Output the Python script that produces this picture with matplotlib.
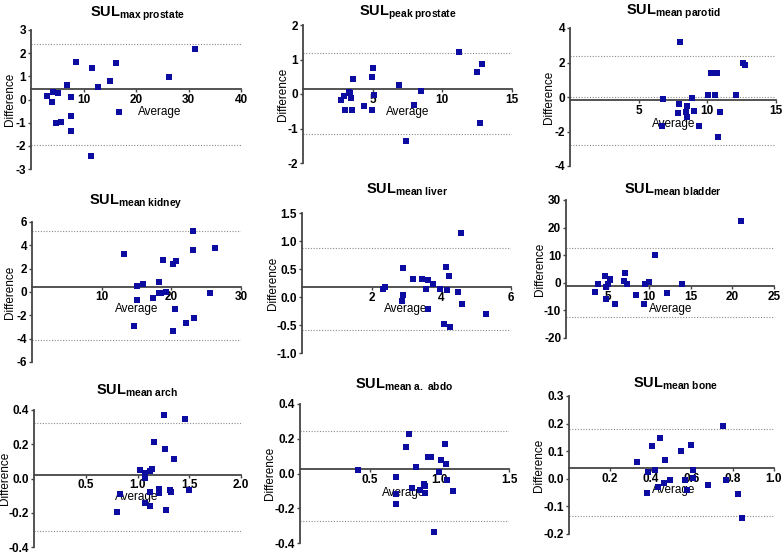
import matplotlib

matplotlib.use("Agg")

import matplotlib.pyplot as plt
from matplotlib.ticker import FormatStrFormatter

plt.rcParams.update({
    "font.family": ["Liberation Sans", "DejaVu Sans"],
    "mathtext.fontset": "custom",
    "mathtext.bf": "Liberation Sans:bold",
    "mathtext.rm": "Liberation Sans",
    "mathtext.it": "Liberation Sans:italic",
    "axes.unicode_minus": False,
})

# ---- data (average, difference) ----
max_prostate_avg = [3.0, 4.0, 4.2, 5.1, 4.75, 5.7, 6.8, 7.6, 7.7, 7.7, 8.5, 11.6, 11.4,
                    12.8, 15.0, 16.1, 16.7, 26.3, 31.2]
max_prostate_diff = [0.16, -0.10, 0.32, 0.30, -1.0, -0.99, 0.63, 0.10, -0.72, -1.38, 1.61,
                     1.36, -2.45, 0.53, 0.82, 1.56, -0.55, 0.99, 2.17]

peak_prostate_avg = [2.76, 2.95, 3.02, 3.29, 3.4, 3.45, 3.52, 3.57, 4.4, 4.95, 5.0, 5.07,
                     4.98, 6.88, 7.38, 7.98, 8.5, 11.2, 12.5, 12.88, 12.7]
peak_prostate_diff = [-0.17, -0.07, -0.46, 0.06, 0.04, -0.12, -0.47, 0.44, -0.36, 0.48, 0.74,
                      -0.03, -0.46, 0.27, -1.37, -0.31, 0.10, 1.22, 0.63, 0.86, -0.84]

parotid_avg = [6.79, 6.69, 8.0, 7.95, 7.83, 8.55, 8.45, 8.5, 8.86, 9.0, 9.36, 10.02, 10.29,
               10.57, 10.74, 10.9, 10.79, 12.1, 12.6, 12.74]
parotid_diff = [-0.14, -1.71, 3.17, -0.40, -0.90, -0.53, -0.86, -1.15, -0.03, -0.82, -1.71,
                0.13, 1.38, 0.13, 1.38, -0.88, -2.3, 0.09, 1.98, 1.88]

kidney_avg = [13.2, 15.0, 15.1, 14.6, 15.9, 17.3, 18.2, 18.3, 18.45, 18.8, 19.2, 20.3, 20.6,
              20.2, 20.55, 22.1, 23.1, 23.1, 23.2, 25.6, 26.3]
kidney_diff = [3.30, 0.49, -0.72, -2.90, 0.66, -0.52, 0.89, -0.09, -0.09, 2.73, -0.03, 2.38,
               2.70, -3.33, -1.46, -2.64, 5.20, 3.62, -2.24, -0.09, 3.76]

liver_avg = [2.33, 2.38, 2.90, 2.89, 2.88, 3.18, 3.44, 3.61, 3.57, 3.62, 3.77, 3.95, 4.14,
             4.17, 4.22, 4.08, 4.26, 4.48, 4.57, 4.6, 5.28]
liver_diff = [0.14, 0.18, 0.51, 0.04, -0.08, 0.33, 0.33, 0.31, 0.14, -0.22, 0.23, 0.14, 0.53,
              0.12, 0.38, -0.49, -0.53, 0.09, 1.15, -0.12, -0.31]

bladder_avg = [3.52, 3.8, 4.64, 4.8, 4.84, 5.08, 5.24, 5.3, 5.88, 6.92, 7.08, 7.36, 8.44,
               9.44, 9.4, 9.92, 10.64, 12.12, 13.96, 21.0]
bladder_diff = [-3.25, -0.36, 2.53, -1.45, -5.9, -0.36, 1.08, 1.45, -7.6, 0.48, 3.49, -0.6,
                -4.46, -0.36, -7.83, 0.12, 10.24, -3.73, -0.48, 22.5]

arch_avg = [0.805, 0.83, 1.02, 1.07, 1.07, 1.075, 1.077, 1.12, 1.14, 1.125, 1.125, 1.16,
            1.205, 1.21, 1.26, 1.263, 1.272, 1.317, 1.32, 1.35, 1.46, 1.494]
arch_diff = [-0.194, -0.091, 0.047, 0.030, 0.015, 0.005, -0.143, 0.045, 0.058, -0.076, -0.16,
             0.213, -0.063, -0.082, 0.368, 0.171, -0.183, -0.069, -0.078, 0.112, 0.35, -0.067]

abdo_avg = [0.416, 0.686, 0.686, 0.688, 0.759, 0.785, 0.806, 0.83, 0.86, 0.887, 0.9, 0.898,
            0.922, 0.941, 0.96, 1.0, 1.014, 1.038, 1.047, 1.052, 1.1]
abdo_diff = [0.02, -0.02, -0.119, -0.174, 0.151, 0.228, -0.082, 0.04, -0.095, -0.059, -0.074,
             -0.111, 0.093, 0.093, -0.338, 0.007, 0.076, 0.167, 0.053, -0.036, -0.1]

bone_avg = [0.33, 0.381, 0.384, 0.405, 0.418, 0.432, 0.443, 0.466, 0.464, 0.491, 0.546, 0.565,
            0.574, 0.595, 0.606, 0.606, 0.678, 0.752, 0.768, 0.824, 0.843]
bone_diff = [0.060, -0.051, 0.025, 0.119, 0.032, -0.028, 0.147, 0.067, -0.016, -0.003, 0.1,
             -0.005, -0.042, 0.121, 0.032, 0.004, -0.023, 0.193, -0.004, -0.054, -0.142]

# bias (solid axis line) and dotted reference lines
bias = [0.445, 0.14, -0.2, 0.46, 0.18, -1.33, 0.023, 0.024, 0.040]
dotted = [[2.38, -1.98], [1.20, -1.16], [2.36, 0.0, -2.8], [5.25, -4.13], [0.87, -0.59],
          [12.65, -12.29], [0.324, -0.305], [0.244, -0.273], [0.179, -0.133]]

subscripts = ["max prostate", "peak prostate", "mean parotid", "mean kidney", "mean liver",
              "mean bladder", "mean arch", "mean a. abdo", "mean bone"]

averages = [max_prostate_avg, peak_prostate_avg, parotid_avg, kidney_avg, liver_avg,
            bladder_avg, arch_avg, abdo_avg, bone_avg]
differences = [max_prostate_diff, peak_prostate_diff, parotid_diff, kidney_diff, liver_diff,
               bladder_diff, arch_diff, abdo_diff, bone_diff]

x_limits = [(0, 40), (0, 15), (0, 15), (0, 30), (0, 6), (0, 25), (0, 2), (0, 1.5), (0, 1)]
y_limits = [(-3, 3), (-2, 2), (-4, 4), (-6, 6), (-1, 1.5), (-20, 30), (-0.4, 0.4),
            (-0.4, 0.4), (-0.2, 0.3)]
x_ticks = [[10, 20, 30, 40], [5, 10, 15], [5, 10, 15], [10, 20, 30], [2, 4, 6],
           [5, 10, 15, 20, 25], [0.5, 1.0, 1.5, 2.0], [0.5, 1.0, 1.5],
           [0.2, 0.4, 0.6, 0.8, 1.0]]
y_ticks = [[-3, -2, -1, 0, 1, 2, 3], [-2, -1, 0, 1, 2], [-4, -2, 0, 2, 4],
           [-6, -4, -2, 0, 2, 4, 6], [-1.0, -0.5, 0.0, 0.5, 1.0, 1.5],
           [-20, -10, 0, 10, 20, 30], [-0.4, -0.2, 0.0, 0.2, 0.4],
           [-0.4, -0.2, 0.0, 0.2, 0.4], [-0.2, -0.1, 0.0, 0.1, 0.2, 0.3]]
x_fmt = ["%d", "%d", "%d", "%d", "%d", "%d", "%.1f", "%.1f", "%.1f"]
y_fmt = ["%d", "%d", "%d", "%d", "%.1f", "%d", "%.1f", "%.1f", "%.1f"]

# ---- layout in pixels ----
W, H = 784, 554
axes_px = [(31, 30, 241, 169), (303, 25, 512, 163), (570, 28, 776, 166),
           (32, 222, 241, 362), (302, 213, 511, 353), (566, 200, 774, 338),
           (34, 410, 241, 547), (300, 404, 509, 543), (569, 396, 774, 534)]
title_px = [(137, 17), (408, 16), (673, 15), (136, 205), (407, 194), (673, 194),
            (137, 395), (404, 389), (676, 388)]
avg_px = [(160, 112), (408, 112), (674, 124), (137, 309), (406, 309), (671, 309),
          (137, 497), (404, 493), (674, 490)]
diff_right_px = [16, 289, 555, 16, 279, 546, 11, 276, 545]

blue = "#0c0ca0"
axis_col = "#454545"

fig = plt.figure(figsize=(W / 100, H / 100), dpi=100)

for i in range(9):
    l, t, r, b = axes_px[i]
    ax = fig.add_axes([l / W, (H - b) / H, (r - l) / W, (b - t) / H])
    ax.set_xlim(*x_limits[i])
    ax.set_ylim(*y_limits[i])

    for lvl in dotted[i]:
        ax.axhline(lvl, color="#8c8c8c", lw=0.8, ls=(0, (1, 1.5)), zorder=1)

    ax.plot(averages[i], differences[i], "s", color=blue, ms=4.0, mew=0,
            clip_on=False, zorder=3)

    for s in ("top", "right"):
        ax.spines[s].set_visible(False)
    ax.spines["bottom"].set_position(("data", bias[i]))
    for s in ("left", "bottom"):
        ax.spines[s].set_color(axis_col)
        ax.spines[s].set_linewidth(1.3)

    ax.set_xticks(x_ticks[i])
    ax.set_yticks(y_ticks[i])
    ax.xaxis.set_major_formatter(FormatStrFormatter(x_fmt[i]))
    ax.yaxis.set_major_formatter(FormatStrFormatter(y_fmt[i]))
    ax.tick_params(axis="both", direction="out", length=2.5, width=1.0, color=axis_col,
                   labelsize=8.5, pad=1.0)
    for lab in ax.get_xticklabels() + ax.get_yticklabels():
        lab.set_fontweight("bold")

    ax.set_ylabel("Difference", fontsize=8.5)
    ax.yaxis.set_label_coords((diff_right_px[i] - l) / (r - l), 0.5)

    ax.set_xlabel("Average", fontsize=8.5, va="center")
    ax_x, ax_y = avg_px[i]
    ax.xaxis.set_label_coords((ax_x - l) / (r - l), (b - ax_y) / (b - t))

    tx, ty = title_px[i]
    sub = subscripts[i].replace(" ", r"\ ")
    fig.text(tx / W, (H - ty) / H, r"$\mathbf{SUL}_{\mathbf{" + sub + "}}$",
             fontsize=10.5, ha="center", va="baseline")

fig.savefig("out.png", dpi=100)
